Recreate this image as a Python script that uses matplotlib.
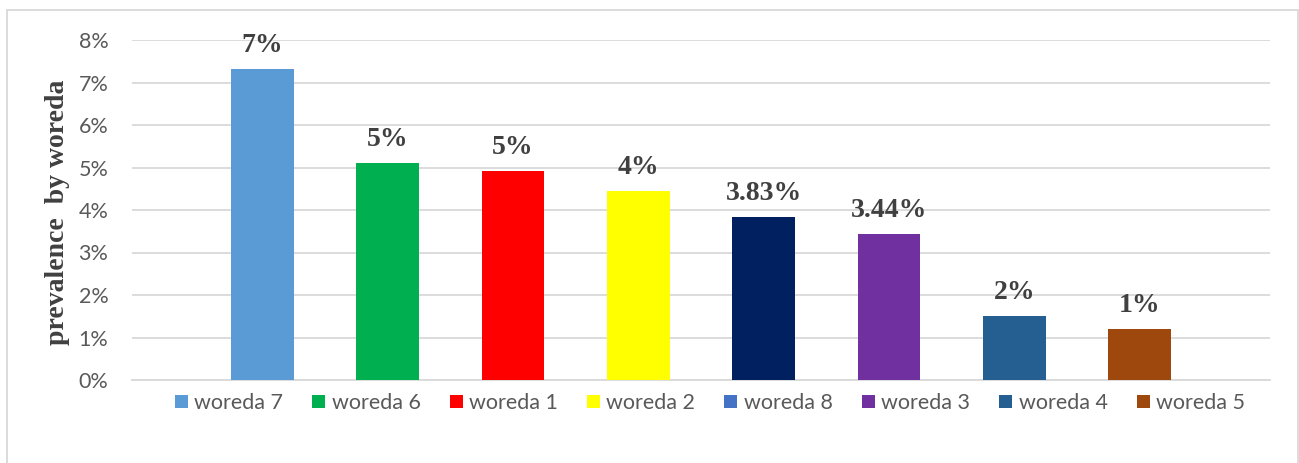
import matplotlib
matplotlib.use("Agg")
import matplotlib.pyplot as plt
from matplotlib.patches import Patch, Rectangle
from matplotlib.ticker import FuncFormatter, MultipleLocator

woredas = ["woreda 7", "woreda 6", "woreda 1", "woreda 2", "woreda 8", "woreda 3", "woreda 4", "woreda 5"]
prevalence = [7.32, 5.10, 4.92, 4.44, 3.83, 3.44, 1.51, 1.20]
label_decimals = [0, 0, 0, 0, 2, 2, 0, 0]

bar_colors = ["#5B9BD5", "#00B050", "#FF0000", "#FFFF00", "#002060", "#7030A0", "#255E91", "#9E480E"]
legend_colors = ["#5B9BD5", "#00B050", "#FF0000", "#FFFF00", "#4472C4", "#7030A0", "#255E91", "#9E480E"]

W, H = 1299, 463
fig = plt.figure(figsize=(W / 100, H / 100), dpi=100)
fig.patch.set_facecolor("white")

# chart frame
fig.patches.append(Rectangle((7 / W, -0.05), (1298 - 7) / W, 1.05 - 10 / H,
                             transform=fig.transFigure, fill=False,
                             edgecolor="#D9D9D9", linewidth=1.3))

ax = fig.add_axes([132 / W, (H - 380) / H, (1270 - 132) / W, (380 - 40) / H])

for i, (name, val) in enumerate(zip(woredas, prevalence)):
    ax.bar(i, val, width=0.5, color=bar_colors[i], zorder=3)
    ax.annotate(f"{val:.{label_decimals[i]}f}%", (i, val), xytext=(0, 8),
                textcoords="offset points", ha="center", va="bottom",
                family="Liberation Serif", fontweight="bold", fontsize=20,
                color="#404040", zorder=4)

ax.set_xlim(-1.04, 8.04)
ax.set_ylim(0, 8)
ax.yaxis.set_major_locator(MultipleLocator(1))
ax.yaxis.set_major_formatter(FuncFormatter(lambda v, _: f"{v:.0f}%"))
ax.set_xticks([])
ax.grid(axis="y", color="#D9D9D9", linewidth=1.3, zorder=0)
for side in ["top", "right", "left"]:
    ax.spines[side].set_visible(False)
ax.spines["bottom"].set_color("#D9D9D9")
ax.spines["bottom"].set_linewidth(1.3)
ax.tick_params(axis="y", length=0, pad=17, labelsize=15.5, labelcolor="#595959")
for lbl in ax.get_yticklabels():
    lbl.set_family("Lato")

fig.text(58 / W, (H - 212) / H, "prevalence  by woreda", rotation=90,
         ha="center", va="center", family="Liberation Serif",
         fontweight="bold", fontsize=20, color="#404040")

handles = [Patch(facecolor=c, edgecolor="none") for c in legend_colors]
ax.legend(handles, woredas, loc="center", bbox_to_anchor=(710 / W, (H - 403) / H),
          bbox_transform=fig.transFigure, ncol=len(woredas), frameon=False,
          prop={"family": "Lato", "size": 15.5}, labelcolor="#595959",
          handlelength=0.6, handleheight=0.6, handletextpad=0.3, columnspacing=1.35)

fig.savefig("out.png", dpi=100)
